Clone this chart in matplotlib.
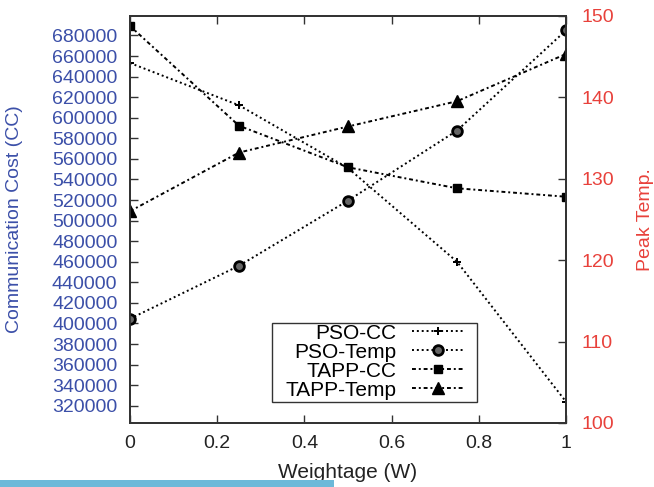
import matplotlib

matplotlib.use('Agg')

from matplotlib import pyplot as plt
from matplotlib.patches import Rectangle

plt.rcParams['font.family'] = ['Liberation Sans', 'DejaVu Sans']

##### Data #####
weightage = [0, 0.25, 0.5, 0.75, 1]

psoCC = [653200, 612100, 551100, 460000, 323900]
tappCC = [689200, 592200, 551800, 531400, 523200]

psoTemp = [112.8, 119.3, 127.3, 135.9, 148.2]
tappTemp = [126.0, 133.2, 136.4, 139.5, 145.3]

ccTicks = list(range(320000, 680001, 20000))
tempTicks = [100, 110, 120, 130, 140, 150]
wTicks = [0, 0.2, 0.4, 0.6, 0.8, 1]

blue = '#3B4FA8'
red = '#E8413B'
axisCol = '#333333'

dotted = (0, (1, 1.5))
dashDot = (0, (2, 1.5, 1, 1.5))

##### Figure #####
fig = plt.figure(figsize=(6.54, 4.87), dpi=100)
ax = fig.add_axes([130 / 654, 64 / 487, 436 / 654, 407.3 / 487])
ax2 = ax.twinx()

l1, = ax.plot(weightage, psoCC, linestyle=dotted, color='black', linewidth=1.4,
	marker='P', markersize=6, markerfacecolor='black', markeredgewidth=0, label='PSO-CC')
l3, = ax.plot(weightage, tappCC, linestyle=dashDot, color='black', linewidth=1.4,
	marker='s', markersize=6, markerfacecolor='black', markeredgecolor='black', label='TAPP-CC')
l2, = ax2.plot(weightage, psoTemp, linestyle=dotted, color='black', linewidth=1.4,
	marker='o', markersize=7, markerfacecolor='#666666', markeredgecolor='black', markeredgewidth=2, label='PSO-Temp')
l4, = ax2.plot(weightage, tappTemp, linestyle=dashDot, color='black', linewidth=1.4,
	marker='^', markersize=8, markerfacecolor='black', markeredgecolor='black', label='TAPP-Temp')

ax.set_xlim(0, 1)
ax.set_ylim(303200, 699200)
ax2.set_ylim(100, 150)

ax.set_xticks(wTicks)
ax.set_xticklabels(['0', '0.2', '0.4', '0.6', '0.8', '1'])
ax.set_yticks(ccTicks)
ax.set_yticklabels([str(v) for v in ccTicks])
ax2.set_yticks(tempTicks)

ax.tick_params(axis='x', direction='in', length=6, width=1, colors=axisCol, labelcolor='#222222',
	labelsize=14, pad=9, top=True)
ax.tick_params(axis='y', direction='in', length=6, width=1, colors=axisCol, labelcolor=blue,
	labelsize=14, pad=9)
ax2.tick_params(axis='y', direction='in', length=6, width=1, colors=axisCol, labelcolor=red,
	labelsize=14, pad=11)

for a in (ax, ax2):
	for s in a.spines.values():
		s.set_color(axisCol)
		s.set_linewidth(1.3)

ax.set_xlabel('Weightage (W)', fontsize=15, color='#222222')
ax.xaxis.set_label_coords(0.5, -0.098)
ax.set_ylabel('Communication Cost (CC)', fontsize=14, color=blue)
ax.yaxis.set_label_coords(-0.245, 0.5)
ax2.set_ylabel('Peak Temp.', fontsize=14, color=red)
ax2.yaxis.set_label_coords(1.163, 0.5)

# gnuplot style key: right aligned text, box drawn separately
keyBox = Rectangle((0.325, 0.052), 0.472, 0.193, transform=ax2.transAxes,
	facecolor='white', edgecolor=axisCol, linewidth=1.0, zorder=4)
ax2.add_patch(keyBox)
leg = ax2.legend(handles=[l1, l2, l3, l4], loc='lower right', bbox_to_anchor=(0.768, 0.0575),
	borderaxespad=0, markerfirst=False, fontsize=15, frameon=False,
	handlelength=2.55, handletextpad=0.72, labelspacing=0.0, borderpad=0)
leg.set_zorder(5)

# light blue strip at the bottom
fig.patches.append(Rectangle((0, 0), 334 / 654, 7 / 487, transform=fig.transFigure,
	facecolor='#6CB9D9', edgecolor='none'))

plt.savefig('out.png', dpi=100)
